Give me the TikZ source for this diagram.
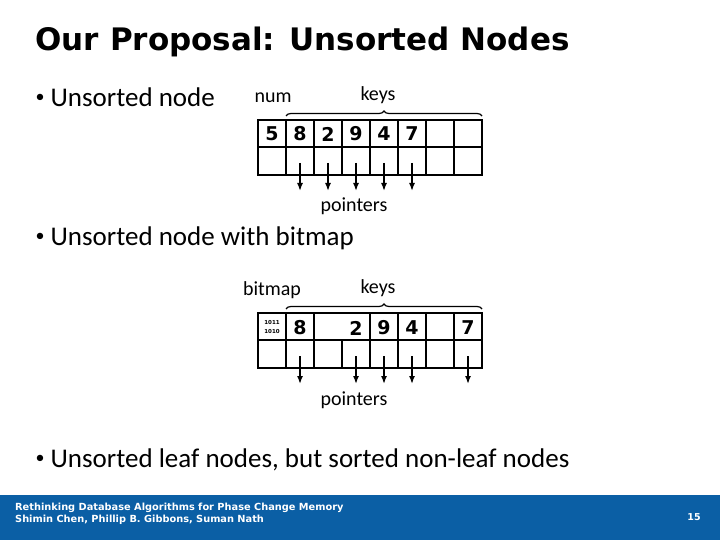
\documentclass[tikz,border=0pt]{standalone}
\usepackage{fontspec}
\setmainfont{Carlito}
\newfontfamily\djb{DejaVu Sans}[BoldFont={DejaVu Sans Bold}]
\usetikzlibrary{decorations.pathreplacing,arrows.meta}
\definecolor{band}{HTML}{0B5FA5}
\begin{document}
\begin{tikzpicture}[x=1pt,y=-1pt,
  cell/.style={draw,line width=2pt},
  digit/.style={font=\djb\bfseries\fontsize{19}{19}\selectfont},
  lbl/.style={font=\fontsize{20}{20}\selectfont},
  bul/.style={anchor=west,font=\fontsize{27}{27}\selectfont},
  ptr/.style={-{Latex[length=8pt,width=6pt]},line width=1.5pt},
  brc/.style={decorate,decoration={brace,amplitude=5pt},line width=1.2pt}]
\useasboundingbox (0,0) rectangle (720,540);
\fill[band] (0,495) rectangle (720,540);
\node[anchor=west,font=\djb\bfseries\fontsize{31}{31}\selectfont] (title) at (32,42) {Our Proposal: Unsorted Nodes};
\node[bul] (b1) at (32,97) {\raisebox{0.15em}{\fontsize{18}{18}\selectfont\textbullet}\ Unsorted node};
\node[bul] (b2) at (32,238) {\raisebox{0.15em}{\fontsize{18}{18}\selectfont\textbullet}\ Unsorted node with bitmap};
\node[bul] (b3) at (32,460) {\raisebox{0.15em}{\fontsize{18}{18}\selectfont\textbullet}\ Unsorted leaf nodes, but sorted non-leaf nodes};
% node 1
\draw[cell] (258,120) rectangle (482,175);
\draw[line width=2pt] (258,147) -- (482,147);
\foreach \i in {1,...,7} \draw[line width=2pt] (258+28*\i,120) -- (258+28*\i,175);
\foreach \d [count=\i from 0] in {5,8,2,9,4,7} \node[digit] (k\i) at (272+28*\i,134) {\d};
\foreach \i in {1,...,5} {\coordinate (s\i) at (272+28*\i,163); \coordinate (e\i) at (272+28*\i,191); \draw[ptr] (s\i) -- (e\i);}
\node[lbl] (num) at (273,98) {num};
\node[lbl] (keys) at (378,95) {keys};
\node[lbl] (ptrs) at (354,206) {pointers};
\coordinate (ba) at (286,116); \coordinate (bb) at (482,116);
\draw[brc] (ba) -- (bb);
% node 2
\draw[cell] (258,313) rectangle (482,368);
\draw[line width=2pt] (258,340) -- (482,340);
\foreach \i in {1,...,7} \draw[line width=2pt] (258+28*\i,340) -- (258+28*\i,368);
\foreach \i in {1,2,4,5,6,7} \draw[line width=2pt] (258+28*\i,313) -- (258+28*\i,340);
\node[font=\djb\bfseries\fontsize{5.5}{5.5}\selectfont,align=left,inner sep=0pt] (bm) at (272,327) {1011\\[3pt]1010};
\node[digit] (m1) at (300,328) {8};
\node[digit] (m3) at (356,328) {2};
\node[digit] (m4) at (384,328) {9};
\node[digit] (m5) at (412,328) {4};
\node[digit] (m7) at (468,328) {7};
\foreach \i in {1,3,4,5,7} {\coordinate (t\i) at (272+28*\i,356); \coordinate (f\i) at (272+28*\i,384); \draw[ptr] (t\i) -- (f\i);}
\node[lbl] (bmp) at (272,290) {bitmap};
\node[lbl] (keys2) at (378,288) {keys};
\node[lbl] (ptrs2) at (354,400) {pointers};
\coordinate (ca) at (286,309); \coordinate (cb) at (482,309);
\draw[brc] (ca) -- (cb);
% footer
\node[anchor=north west,align=left,text=white,inner sep=0pt,font=\djb\bfseries\fontsize{9.8}{12}\selectfont] (foot) at (15,503) {Rethinking Database Algorithms for Phase Change Memory\\Shimin Chen, Phillip B. Gibbons, Suman Nath};
\node[text=white,font=\djb\bfseries\fontsize{9.5}{9.5}\selectfont] (pg) at (694,517) {15};
\end{tikzpicture}
\end{document}
